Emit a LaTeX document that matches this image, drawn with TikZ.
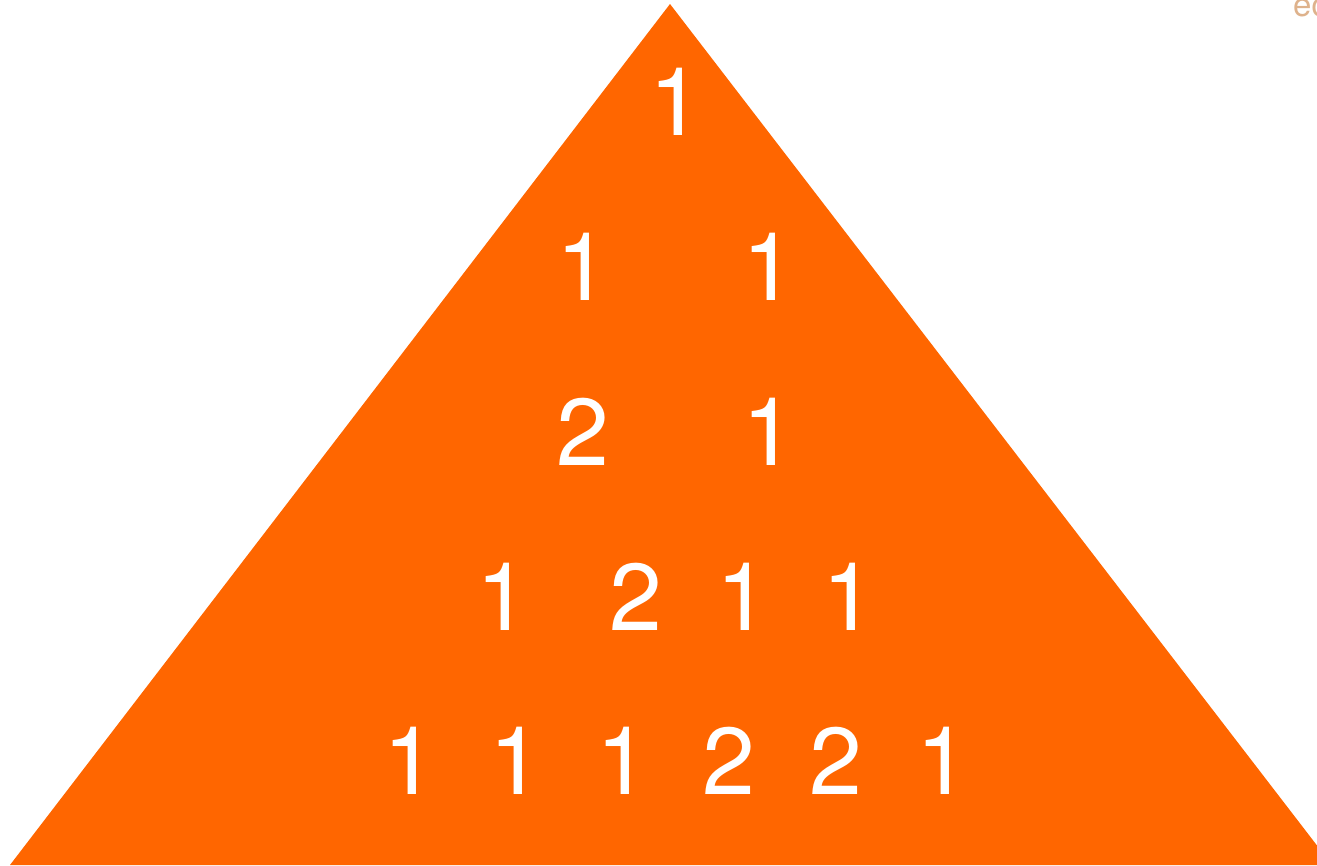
\documentclass[tikz,border=0pt]{standalone}
\usepackage{fontspec}
\setmainfont{TeX Gyre Heros}
\usepackage{tikz}
\definecolor{pyrorange}{RGB}{255, 102, 0}
\definecolor{markbrown}{RGB}{222, 178, 140}

\begin{document}
\begin{tikzpicture}[
    x=1pt, y=-1pt,
    digit/.style={anchor=base, inner sep=0pt, text=white, font=\fontsize{95}{95}\selectfont}
]
\useasboundingbox (0,0) rectangle (1317,865);

% pyramid
\fill[pyrorange] (670,4) -- (1332,865) -- (10,865) -- cycle;

% row 1
\node[digit] (ra1) at (676,135) {1};
% row 2
\node[digit] (rb1) at (583,300) {1};
\node[digit] (rb2) at (769,300) {1};
% row 3
\node[digit] (rc1) at (583,465) {2};
\node[digit] (rc2) at (769,465) {1};
% row 4
\node[digit] (rd1) at (503,630) {1};
\node[digit] (rd2) at (636,630) {2};
\node[digit] (rd3) at (743,630) {1};
\node[digit] (rd4) at (849,630) {1};
% row 5
\node[digit] (re1) at (409.5,794) {1};
\node[digit] (re2) at (516,794) {1};
\node[digit] (re3) at (623,794) {1};
\node[digit] (re4) at (729,794) {2};
\node[digit] (re5) at (836,794) {2};
\node[digit] (re6) at (943,794) {1};

% watermark, cut off at the edge
\node[anchor=base west, inner sep=0pt, text=markbrown, font=\fontsize{33}{33}\selectfont] (wm) at (1293,16) {ec};
\end{tikzpicture}
\end{document}
